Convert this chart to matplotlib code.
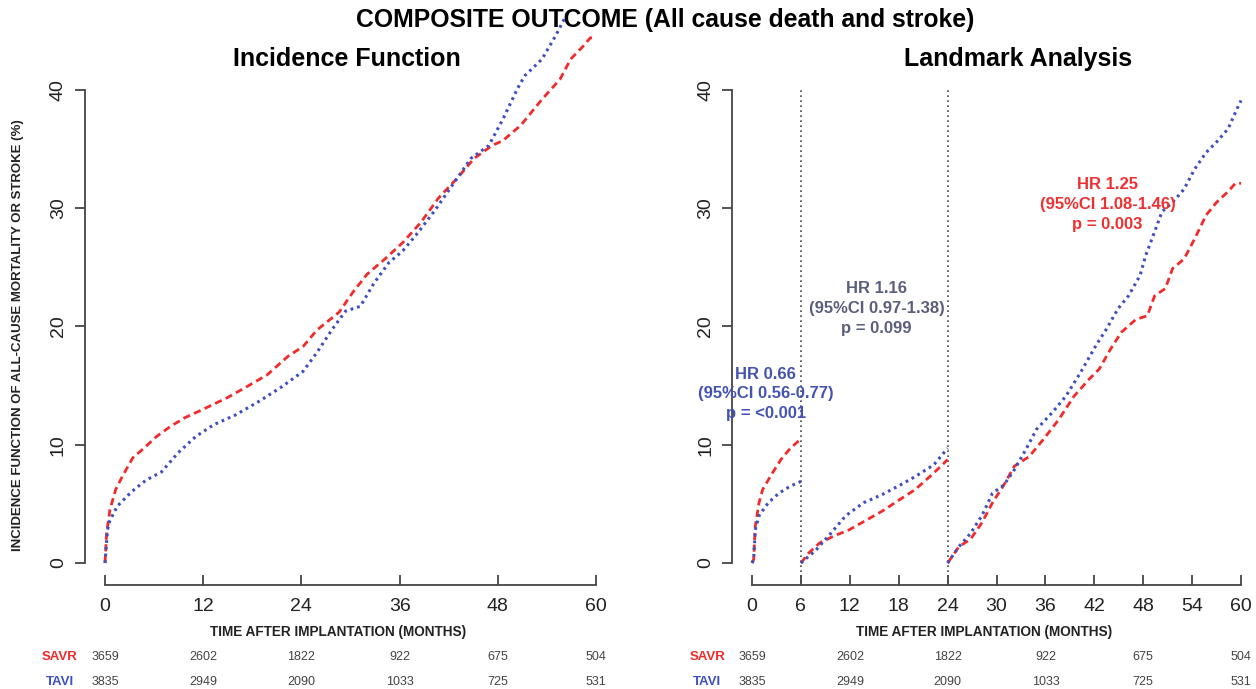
import matplotlib
matplotlib.use("Agg")
import matplotlib.pyplot as plt
from matplotlib.transforms import blended_transform_factory

plt.rcParams['font.family'] = ['Liberation Sans', 'DejaVu Sans']

# ---- data ----
# Incidence function (cumulative, %)
savr_t = [0, 0.2, 0.6, 1.3, 2.1, 3.4, 4.75, 6.3, 8.0, 9.8, 12, 15, 16.8, 19.8, 22.4, 24.2, 25.9,
          28.6, 30.3, 32, 34.2, 36.4, 38.6, 40.8, 43, 45.1, 47.3, 48.6, 50.8, 53.4, 55.6, 56.9,
          58.3, 59.3, 60]
savr_y = [0, 2.5, 4.5, 6.2, 7.3, 8.9, 9.7, 10.7, 11.55, 12.3, 13, 14, 14.7, 15.9, 17.5, 18.3, 19.7,
          21.2, 22.9, 24.4, 25.7, 27.1, 28.8, 30.9, 32.5, 34.2, 35.3, 35.7, 37, 39.2, 40.9, 42.6,
          43.6, 44.4, 44.4]
tavi_t = [0, 0.3, 0.6, 1.5, 3.2, 5.0, 6.9, 8.9, 11.1, 13.3, 15.9, 18.9, 21.6, 24.2, 25.9, 27.7,
          29.4, 31.2, 32.9, 34.7, 36.4, 38.2, 40.3, 42.5, 44.7, 46.9, 48.6, 50.4, 51.3, 53.4, 55.0,
          56.5]
tavi_y = [0, 2.8, 3.6, 4.8, 6.0, 7.0, 7.7, 9.3, 10.7, 11.7, 12.5, 13.7, 14.9, 16.2, 17.8, 19.7,
          21.3, 21.7, 23.7, 25.4, 26.4, 27.9, 29.8, 32, 34.2, 35.3, 37.5, 40.1, 41.2, 42.6, 44.5,
          46.5]

# Landmark analysis: 0-6, 6-24, 24-60 months
lm_savr_t = [
    [0, 0.2, 0.4, 0.86, 1.3, 2.4, 3.6, 4.7, 6.0],
    [6.0, 6.96, 8.3, 10.1, 11.9, 13.7, 16.0, 18.2, 20.0, 21.8, 23.2, 24.0],
    [24.0, 25.4, 26.8, 28.2, 29.5, 30.9, 32.2, 34, 35.8, 37.6, 39.5, 41.3, 42.6, 44, 45.3, 47.1,
     48.5, 49.4, 50.7, 51.6, 53, 54.3, 55.7, 57, 58.4, 59.3, 60],
]
lm_savr_y = [
    [0, 0.3, 3.1, 5.1, 6.2, 7.5, 8.8, 9.7, 10.5],
    [0, 0.85, 1.7, 2.3, 2.8, 3.5, 4.4, 5.4, 6.2, 7.3, 8.2, 8.75],
    [0, 1.4, 2.0, 3.4, 5.1, 6.6, 8.2, 9.0, 10.5, 12.1, 14.1, 15.5, 16.4, 18.1, 19.5, 20.6,
     20.9, 22.6, 23.2, 24.9, 25.7, 27.4, 29.4, 30.5, 31.4, 32.1, 32.1],
]
lm_tavi_t = [
    [0, 0.2, 0.4, 0.86, 2.0, 3.3, 4.7, 6.0],
    [6.0, 7.85, 9.65, 11.5, 13.7, 16.0, 18.2, 20.0, 22.3, 24.0],
    [24.0, 25.4, 26.8, 28.2, 29.5, 30.9, 32.2, 33.6, 34.9, 36.8, 38.5, 40.3, 42.2, 43.5, 44.9,
     46.2, 47.6, 48.3, 48.9, 50.3, 51.6, 53.0, 54.3, 55.7, 57.0, 58.4, 59.7, 60],
]
lm_tavi_y = [
    [0, 0.3, 2.8, 4.0, 5.1, 5.9, 6.5, 6.9],
    [0, 1.1, 2.5, 4.0, 5.1, 5.8, 6.6, 7.3, 8.3, 9.7],
    [0, 1.4, 2.5, 4.0, 5.9, 6.6, 7.9, 9.6, 11.3, 12.7, 14.1, 16.1, 18.4, 19.8, 21.5, 22.6, 24.3,
     26.0, 27.1, 29.7, 30.5, 31.6, 33.3, 34.7, 35.6, 36.7, 38.7, 39.1],
]
landmarks = [6, 24]

# numbers at risk
risk_times = [0, 12, 24, 36, 48, 60]
savr_risk = [3659, 2602, 1822, 922, 675, 504]
tavi_risk = [3835, 2949, 2090, 1033, 725, 531]

# hazard ratio boxes: (x, y, text, colour)
hr_notes = [
    (1.7, 14.3, "HR 0.66\n(95%CI 0.56-0.77)\np = <0.001", "#4452b4"),
    (15.3, 21.5, "HR 1.16\n(95%CI 0.97-1.38)\np = 0.099", "#5b5e7c"),
    (43.6, 30.3, "HR 1.25\n(95%CI 1.08-1.46)\np = 0.003", "#f03030"),
]

RED = "#f22a2a"
BLUE = "#3f4fc0"
AXC = "#444444"

fig = plt.figure(figsize=(12.56, 6.89), dpi=100)
ax1 = fig.add_axes([0.0677, 0.1509, 0.4225, 0.832])
ax2 = fig.add_axes([0.5829, 0.1509, 0.4208, 0.832])


def style_axis(ax, xticks):
    ax.set_xlim(-2.44, 62.4)
    ax.set_ylim(-1.86, 46.6)
    for s in ["top", "right"]:
        ax.spines[s].set_visible(False)
    ax.spines["left"].set_bounds(0, 40)
    ax.spines["bottom"].set_bounds(0, 60)
    for s in ["left", "bottom"]:
        ax.spines[s].set_color(AXC)
        ax.spines[s].set_linewidth(1.3)
    ax.set_yticks([0, 10, 20, 30, 40])
    ax.set_xticks(xticks)
    ax.tick_params(axis="y", direction="out", length=7, width=1.3, color=AXC,
                   labelsize=14, pad=6, labelcolor="#222222")
    ax.tick_params(axis="x", direction="in", length=7, width=1.3, color=AXC,
                   labelsize=14, pad=9, labelcolor="#222222")
    plt.setp(ax.get_yticklabels(), rotation=90, va="center")
    tr = blended_transform_factory(ax.transData, fig.transFigure)
    ax.text(28.5, 0.0827, "TIME AFTER IMPLANTATION (MONTHS)", transform=tr,
            ha="center", va="center", fontsize=9.8, fontweight="bold", color="#222222")
    ax.text(-5.5, 0.0464, "SAVR", transform=tr, ha="center", va="center",
            fontsize=9.5, fontweight="bold", color=RED)
    ax.text(-5.5, 0.0102, "TAVI", transform=tr, ha="center", va="center",
            fontsize=9.5, fontweight="bold", color=BLUE)
    for t, s, v in zip(risk_times, savr_risk, tavi_risk):
        ax.text(t, 0.0464, str(s), transform=tr, ha="center", va="center",
                fontsize=9, color="#444444")
        ax.text(t, 0.0102, str(v), transform=tr, ha="center", va="center",
                fontsize=9, color="#444444")


red_style = dict(color=RED, lw=2.0, linestyle=(0, (2.6, 1.6)))
blue_style = dict(color=BLUE, lw=2.2, linestyle=(0, (0.9, 1.3)))

# left panel
ax1.plot(savr_t, savr_y, **red_style)
ax1.plot(tavi_t, tavi_y, **blue_style)
style_axis(ax1, [0, 12, 24, 36, 48, 60])

# right panel
for lm in landmarks:
    ax2.plot([lm, lm], [-1.6, 40], color="#444444", lw=1.2, linestyle=(0, (1, 2)))
for t, y in zip(lm_savr_t, lm_savr_y):
    ax2.plot(t, y, **red_style)
for t, y in zip(lm_tavi_t, lm_tavi_y):
    ax2.plot(t, y, **blue_style)
style_axis(ax2, list(range(0, 61, 6)))
for x, y, txt, c in hr_notes:
    ax2.text(x, y, txt, ha="center", va="center", fontsize=12, fontweight="bold",
             color=c, linespacing=1.4)

fig.text(0.0143, 0.514, "INCIDENCE FUNCTION OF ALL-CAUSE MORTALITY OR STROKE (%)",
         rotation=90, ha="center", va="center", fontsize=9.5, fontweight="bold", color="#222222")
fig.text(665 / 1256, 0.971, "COMPOSITE OUTCOME (All cause death and stroke)",
         ha="center", va="center", fontsize=17.8, fontweight="bold")
fig.text(347 / 1256, 0.914, "Incidence Function", ha="center", va="center",
         fontsize=18, fontweight="bold")
fig.text(1018 / 1256, 0.914, "Landmark Analysis", ha="center", va="center",
         fontsize=18, fontweight="bold")

fig.savefig("out.png", dpi=100)
